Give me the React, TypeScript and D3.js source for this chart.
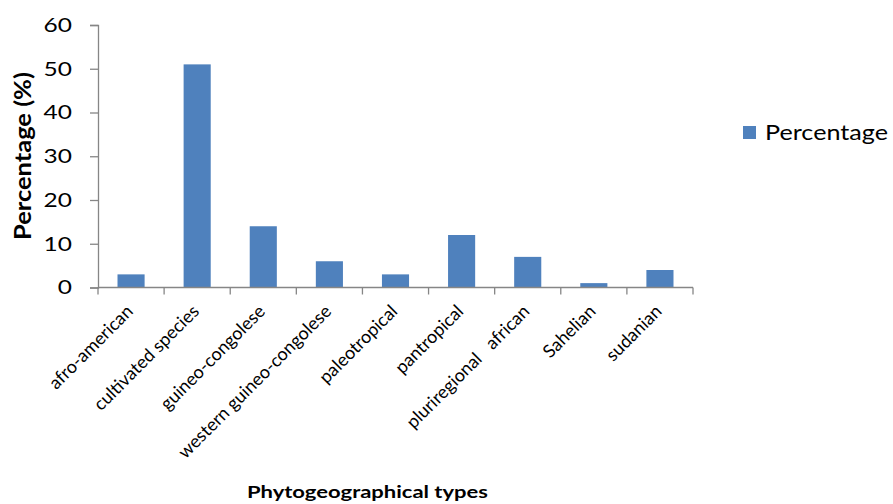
import React, { useEffect, useRef } from "react";
import * as d3 from "d3";

const categories = [
  "afro-american",
  "cultivated species",
  "guineo-congolese",
  "western guineo-congolese",
  "paleotropical",
  "pantropical",
  "pluriregional   african",
  "Sahelian",
  "sudanian",
];
const percentages = [3, 51, 14, 6, 3, 12, 7, 1, 4];
const yTicks = [0, 10, 20, 30, 40, 50, 60];

const App = () => {
  const svgRef = useRef<SVGSVGElement>(null);
  const svgWidth = 893;
  const svgHeight = 504;

  useEffect(() => {
    const MARGIN = { TOP: 25, LEFT: 98 };
    const WIDTH = 595;
    const HEIGHT = 262.5;
    const FONT = "Lato, 'Open Sans', sans-serif";
    const AXIS = "#868686";

    const svg = d3.select(svgRef.current);
    svg.selectAll("*").remove();

    const g = svg
      .append("g")
      .attr("transform", `translate(${MARGIN.LEFT}, ${MARGIN.TOP})`);

    const x = d3
      .scaleBand()
      .domain(categories)
      .range([0, WIDTH])
      .paddingInner(0)
      .paddingOuter(0);

    const y = d3.scaleLinear().domain([0, 60]).range([HEIGHT, 0]);

    const barW = x.bandwidth() * 0.41;

    g.selectAll("rect.bar")
      .data(percentages)
      .enter()
      .append("rect")
      .attr("class", "bar")
      .attr("x", (d, i) => x(categories[i])! + (x.bandwidth() - barW) / 2)
      .attr("y", (d) => y(d))
      .attr("width", barW)
      .attr("height", (d) => HEIGHT - y(d))
      .attr("fill", "#4F81BD");

    // y axis
    const yAxis = g
      .append("g")
      .call(d3.axisLeft(y).tickValues(yTicks).tickSize(8).tickPadding(18));
    yAxis.select(".domain").attr("stroke", AXIS).attr("stroke-width", 1.3);
    yAxis.selectAll(".tick line").attr("stroke", AXIS).attr("stroke-width", 1.3);
    yAxis
      .selectAll<SVGTextElement, number>(".tick text")
      .attr("font-family", FONT)
      .attr("font-size", 20)
      .attr("fill", "#000")
      .attr("textLength", (d) => String(d).length * 14.2)
      .attr("lengthAdjust", "spacingAndGlyphs");

    // x axis with ticks at band boundaries
    const xg = g.append("g").attr("transform", `translate(0, ${HEIGHT})`);
    xg.append("line")
      .attr("x1", 0)
      .attr("x2", WIDTH)
      .attr("stroke", AXIS)
      .attr("stroke-width", 1.3);
    const bounds = categories.map((c) => x(c)!).concat([WIDTH]);
    xg.selectAll("line.tick")
      .data(bounds)
      .enter()
      .append("line")
      .attr("class", "tick")
      .attr("x1", (d) => d)
      .attr("x2", (d) => d)
      .attr("y1", 0)
      .attr("y2", 7)
      .attr("stroke", AXIS)
      .attr("stroke-width", 1.3);

    xg.selectAll("text.cat")
      .data(categories)
      .enter()
      .append("text")
      .attr("class", "cat")
      .attr(
        "transform",
        (d) => `translate(${x(d)! + x.bandwidth() / 2 + 3}, 25) rotate(-45)`
      )
      .attr("text-anchor", "end")
      .attr("font-family", FONT)
      .attr("font-size", 18)
      .attr("fill", "#000")
      .style("white-space", "pre")
      .text((d) => d);

    // titles
    svg
      .append("text")
      .attr("transform", `translate(31, 156) rotate(-90)`)
      .attr("text-anchor", "middle")
      .attr("font-family", FONT)
      .attr("font-weight", "bold")
      .attr("font-size", 22)
      .attr("textLength", 168)
      .attr("lengthAdjust", "spacingAndGlyphs")
      .text("Percentage (%)");

    svg
      .append("text")
      .attr("x", 367.5)
      .attr("y", 498)
      .attr("text-anchor", "middle")
      .attr("font-family", FONT)
      .attr("font-weight", "bold")
      .attr("font-size", 17)
      .attr("textLength", 241)
      .attr("lengthAdjust", "spacingAndGlyphs")
      .text("Phytogeographical types");

    // legend
    const legend = svg.append("g").attr("transform", "translate(743, 126)");
    legend.append("rect").attr("width", 13).attr("height", 13).attr("fill", "#4F81BD");
    legend
      .append("text")
      .attr("x", 22)
      .attr("y", 14)
      .attr("font-family", FONT)
      .attr("font-size", 22)
      .attr("textLength", 123)
      .attr("lengthAdjust", "spacingAndGlyphs")
      .text("Percentage");
  }, []);

  return (
    <svg
      ref={svgRef}
      width={svgWidth}
      height={svgHeight}
      style={{ position: "absolute", left: 0, top: 0, background: "#fff" }}
    />
  );
};

export default App;
